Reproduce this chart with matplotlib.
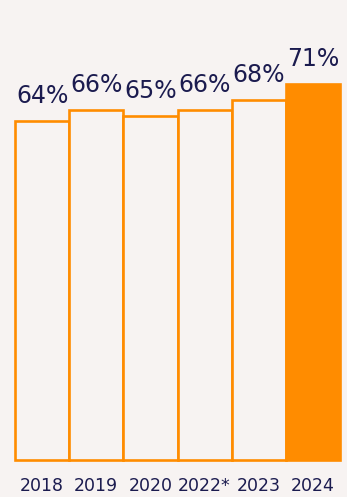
import matplotlib
matplotlib.use("Agg")
import matplotlib.pyplot as plt

years = ["2018", "2019", "2020", "2022*", "2023", "2024"]
values = [64, 66, 65, 66, 68, 71]
highlight = [False, False, False, False, False, True]

bg = "#f7f3f2"
orange = "#ff8c00"
navy = "#1b1b4f"

fig = plt.figure(figsize=(3.47, 4.97), dpi=100, facecolor=bg)
ax = fig.add_axes([15/347, 1-460/497, (340-15)/347, (460-84)/497])
ax.set_facecolor(bg)
x = list(range(len(years)))
for xi, v, h in zip(x, values, highlight):
    bars = ax.bar(xi, v, width=1.0, color=orange if h else bg, edgecolor=orange, linewidth=1.9, zorder=2)
    for b in bars:
        b.set_clip_on(False)
    ax.annotate(f"{v}%", (xi, v), xytext=(0, 13), textcoords="offset points",
                ha="center", va="baseline", fontsize=17, color=navy, family="DejaVu Sans",
                annotation_clip=False)
ax.set_xlim(-0.5, len(years)-0.5)
ax.set_ylim(0, 71)
for s in ax.spines.values():
    s.set_visible(False)
ax.set_yticks([])
ax.set_xticks(x)
ax.set_xticklabels(years, fontsize=12.5, color=navy, family="DejaVu Sans")
ax.tick_params(axis="x", length=0, pad=12)
fig.savefig("out.png", dpi=100, facecolor=bg)
